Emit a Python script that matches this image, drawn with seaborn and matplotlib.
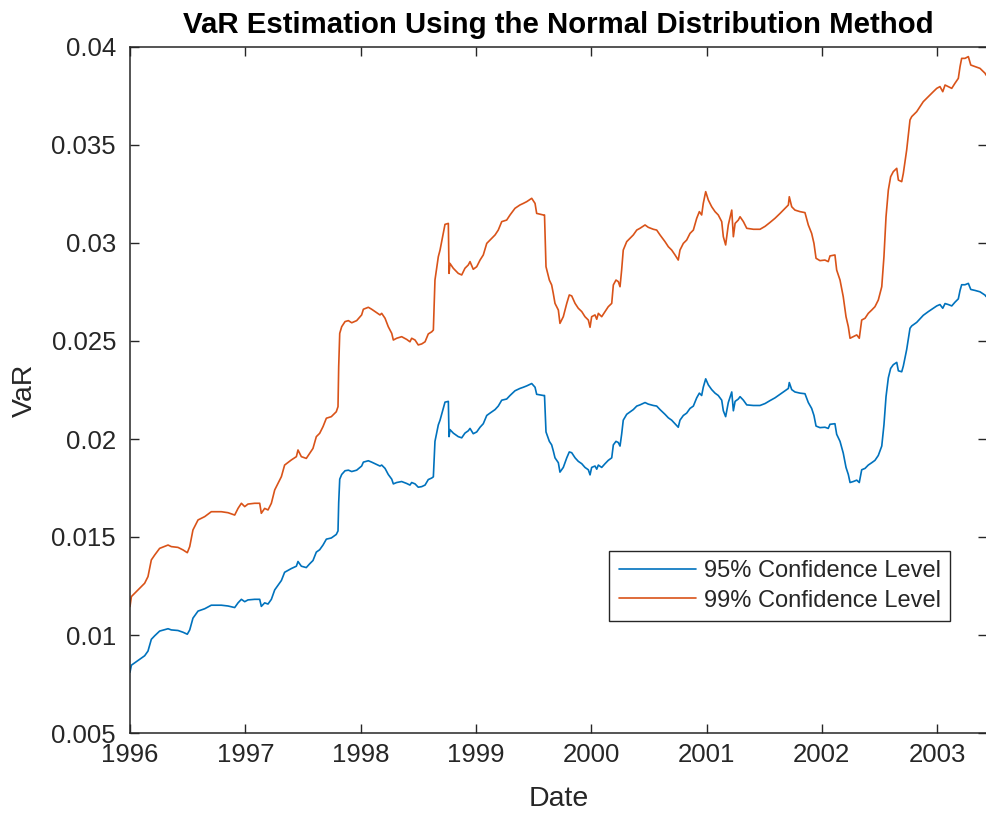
import matplotlib
matplotlib.use("Agg")
import matplotlib.pyplot as plt
import seaborn as sns
import pandas as pd
from matplotlib.ticker import FixedLocator, FixedFormatter

# ---- data ----
dates = [
    1996.000, 1996.012, 1996.069, 1996.127, 1996.156, 1996.185, 1996.214, 1996.257, 1996.330, 1996.358,
    1996.416, 1996.460, 1996.497, 1996.518, 1996.546, 1996.590, 1996.648, 1996.705, 1996.792, 1996.850,
    1996.908, 1996.937, 1996.966, 1996.995, 1997.023, 1997.081, 1997.125, 1997.139, 1997.168, 1997.197,
    1997.226, 1997.255, 1997.284, 1997.313, 1997.341, 1997.399, 1997.443, 1997.457, 1997.486, 1997.529,
    1997.558, 1997.587, 1997.616, 1997.645, 1997.674, 1997.703, 1997.746, 1997.789, 1997.804, 1997.810,
    1997.819, 1997.836, 1997.865, 1997.894, 1997.923, 1997.966, 1998.009, 1998.024, 1998.067, 1998.096,
    1998.139, 1998.168, 1998.183, 1998.212, 1998.240, 1998.270, 1998.284, 1998.313, 1998.356, 1998.400,
    1998.428, 1998.443, 1998.472, 1998.500, 1998.530, 1998.559, 1998.587, 1998.617, 1998.631, 1998.645,
    1998.674, 1998.689, 1998.717, 1998.732, 1998.761, 1998.767, 1998.775, 1998.804, 1998.847, 1998.877,
    1998.905, 1998.934, 1998.949, 1998.977, 1999.007, 1999.036, 1999.064, 1999.094, 1999.122, 1999.166,
    1999.194, 1999.224, 1999.267, 1999.296, 1999.339, 1999.382, 1999.411, 1999.441, 1999.484, 1999.513,
    1999.527, 1999.585, 1999.595, 1999.608, 1999.637, 1999.657, 1999.671, 1999.686, 1999.715, 1999.729,
    1999.758, 1999.788, 1999.810, 1999.831, 1999.860, 1999.888, 1999.918, 1999.946, 1999.975, 1999.990,
    2000.004, 2000.033, 2000.048, 2000.062, 2000.091, 2000.120, 2000.148, 2000.178, 2000.192, 2000.215,
    2000.235, 2000.250, 2000.264, 2000.278, 2000.308, 2000.337, 2000.365, 2000.395, 2000.423, 2000.467,
    2000.495, 2000.539, 2000.568, 2000.597, 2000.640, 2000.669, 2000.698, 2000.727, 2000.755, 2000.770,
    2000.799, 2000.828, 2000.857, 2000.886, 2000.915, 2000.938, 2000.958, 2000.972, 2000.993, 2001.016,
    2001.045, 2001.074, 2001.102, 2001.132, 2001.146, 2001.166, 2001.189, 2001.219, 2001.233, 2001.248,
    2001.276, 2001.291, 2001.320, 2001.349, 2001.407, 2001.464, 2001.508, 2001.551, 2001.594, 2001.638,
    2001.681, 2001.710, 2001.718, 2001.739, 2001.767, 2001.811, 2001.854, 2001.883, 2001.912, 2001.932,
    2001.950, 2001.984, 2002.027, 2002.056, 2002.071, 2002.114, 2002.129, 2002.158, 2002.186, 2002.210,
    2002.230, 2002.245, 2002.273, 2002.303, 2002.325, 2002.346, 2002.375, 2002.403, 2002.433, 2002.461,
    2002.490, 2002.520, 2002.539, 2002.557, 2002.577, 2002.597, 2002.620, 2002.650, 2002.664, 2002.693,
    2002.707, 2002.736, 2002.765, 2002.780, 2002.823, 2002.852, 2002.880, 2002.924, 2002.967, 2002.997,
    2003.025, 2003.049, 2003.069, 2003.097, 2003.127, 2003.155, 2003.184, 2003.199, 2003.213, 2003.242,
    2003.271, 2003.292, 2003.329, 2003.372, 2003.416, 2003.424,
]

var99 = [
    0.01145, 0.01196, 0.01230, 0.01264, 0.01298, 0.01383, 0.01408, 0.01442, 0.01459, 0.01451,
    0.01447, 0.01434, 0.01420, 0.01451, 0.01536, 0.01587, 0.01604, 0.01629, 0.01629, 0.01624,
    0.01612, 0.01646, 0.01672, 0.01655, 0.01668, 0.01672, 0.01672, 0.01621, 0.01646, 0.01638,
    0.01672, 0.01740, 0.01774, 0.01808, 0.01867, 0.01893, 0.01910, 0.01944, 0.01910, 0.01901,
    0.01927, 0.01952, 0.02012, 0.02029, 0.02063, 0.02106, 0.02114, 0.02139, 0.02165, 0.02369,
    0.02539, 0.02573, 0.02599, 0.02604, 0.02593, 0.02604, 0.02633, 0.02662, 0.02672, 0.02662,
    0.02645, 0.02633, 0.02641, 0.02616, 0.02573, 0.02539, 0.02505, 0.02514, 0.02522, 0.02508,
    0.02496, 0.02514, 0.02505, 0.02480, 0.02485, 0.02496, 0.02536, 0.02547, 0.02556, 0.02811,
    0.02930, 0.02964, 0.03049, 0.03095, 0.03100, 0.02845, 0.02896, 0.02871, 0.02845, 0.02837,
    0.02871, 0.02888, 0.02905, 0.02866, 0.02879, 0.02913, 0.02939, 0.02998, 0.03015, 0.03041,
    0.03066, 0.03109, 0.03117, 0.03143, 0.03177, 0.03194, 0.03202, 0.03211, 0.03228, 0.03202,
    0.03151, 0.03143, 0.03143, 0.02879, 0.02811, 0.02786, 0.02743, 0.02692, 0.02658, 0.02590,
    0.02624, 0.02692, 0.02735, 0.02730, 0.02692, 0.02667, 0.02650, 0.02624, 0.02607, 0.02570,
    0.02624, 0.02633, 0.02611, 0.02641, 0.02624, 0.02650, 0.02675, 0.02692, 0.02786, 0.02811,
    0.02803, 0.02777, 0.02862, 0.02964, 0.03007, 0.03024, 0.03041, 0.03066, 0.03075, 0.03092,
    0.03080, 0.03070, 0.03066, 0.03041, 0.03007, 0.02981, 0.02964, 0.02939, 0.02913, 0.02964,
    0.02998, 0.03015, 0.03049, 0.03066, 0.03126, 0.03160, 0.03143, 0.03202, 0.03262, 0.03219,
    0.03185, 0.03160, 0.03143, 0.03109, 0.03032, 0.02990, 0.03092, 0.03168, 0.03032, 0.03100,
    0.03117, 0.03134, 0.03109, 0.03075, 0.03070, 0.03070, 0.03085, 0.03105, 0.03126, 0.03151,
    0.03177, 0.03194, 0.03236, 0.03185, 0.03168, 0.03160, 0.03155, 0.03092, 0.03049, 0.02998,
    0.02922, 0.02910, 0.02913, 0.02905, 0.02934, 0.02939, 0.02862, 0.02811, 0.02726, 0.02624,
    0.02573, 0.02514, 0.02522, 0.02531, 0.02514, 0.02607, 0.02616, 0.02641, 0.02658, 0.02675,
    0.02709, 0.02777, 0.02930, 0.03134, 0.03270, 0.03338, 0.03364, 0.03381, 0.03321, 0.03313,
    0.03355, 0.03474, 0.03628, 0.03645, 0.03670, 0.03696, 0.03721, 0.03747, 0.03772, 0.03789,
    0.03798, 0.03772, 0.03806, 0.03798, 0.03789, 0.03815, 0.03840, 0.03900, 0.03942, 0.03942,
    0.03951, 0.03908, 0.03900, 0.03891, 0.03866, 0.03857,
]

var95 = [
    0.00810, 0.00846, 0.00870, 0.00894, 0.00918, 0.00978, 0.00996, 0.01020, 0.01032, 0.01026,
    0.01023, 0.01014, 0.01004, 0.01026, 0.01086, 0.01122, 0.01134, 0.01152, 0.01152, 0.01148,
    0.01140, 0.01164, 0.01182, 0.01170, 0.01179, 0.01182, 0.01182, 0.01146, 0.01164, 0.01158,
    0.01182, 0.01230, 0.01254, 0.01278, 0.01320, 0.01339, 0.01351, 0.01375, 0.01351, 0.01344,
    0.01363, 0.01380, 0.01423, 0.01435, 0.01459, 0.01489, 0.01495, 0.01513, 0.01531, 0.01675,
    0.01795, 0.01819, 0.01838, 0.01841, 0.01834, 0.01841, 0.01862, 0.01882, 0.01889, 0.01882,
    0.01870, 0.01862, 0.01867, 0.01850, 0.01819, 0.01795, 0.01771, 0.01778, 0.01783, 0.01773,
    0.01765, 0.01778, 0.01771, 0.01754, 0.01757, 0.01765, 0.01793, 0.01801, 0.01807, 0.01988,
    0.02072, 0.02096, 0.02156, 0.02188, 0.02192, 0.02012, 0.02048, 0.02030, 0.02012, 0.02006,
    0.02030, 0.02042, 0.02054, 0.02027, 0.02036, 0.02060, 0.02078, 0.02120, 0.02132, 0.02150,
    0.02168, 0.02198, 0.02204, 0.02222, 0.02246, 0.02258, 0.02264, 0.02271, 0.02283, 0.02264,
    0.02228, 0.02222, 0.02222, 0.02036, 0.01988, 0.01970, 0.01940, 0.01904, 0.01879, 0.01831,
    0.01855, 0.01904, 0.01934, 0.01930, 0.01904, 0.01886, 0.01874, 0.01855, 0.01843, 0.01817,
    0.01855, 0.01862, 0.01846, 0.01867, 0.01855, 0.01874, 0.01891, 0.01904, 0.01970, 0.01988,
    0.01982, 0.01964, 0.02024, 0.02096, 0.02126, 0.02138, 0.02150, 0.02168, 0.02174, 0.02186,
    0.02178, 0.02171, 0.02168, 0.02150, 0.02126, 0.02108, 0.02096, 0.02078, 0.02060, 0.02096,
    0.02120, 0.02132, 0.02156, 0.02168, 0.02210, 0.02234, 0.02222, 0.02264, 0.02307, 0.02276,
    0.02252, 0.02234, 0.02222, 0.02198, 0.02144, 0.02114, 0.02186, 0.02240, 0.02144, 0.02192,
    0.02204, 0.02216, 0.02198, 0.02174, 0.02171, 0.02171, 0.02181, 0.02196, 0.02210, 0.02228,
    0.02246, 0.02258, 0.02288, 0.02252, 0.02240, 0.02234, 0.02231, 0.02186, 0.02156, 0.02120,
    0.02066, 0.02058, 0.02060, 0.02054, 0.02075, 0.02078, 0.02024, 0.01988, 0.01928, 0.01855,
    0.01819, 0.01778, 0.01783, 0.01790, 0.01778, 0.01843, 0.01850, 0.01867, 0.01879, 0.01891,
    0.01916, 0.01964, 0.02072, 0.02216, 0.02312, 0.02360, 0.02379, 0.02391, 0.02348, 0.02343,
    0.02372, 0.02456, 0.02565, 0.02577, 0.02595, 0.02613, 0.02631, 0.02650, 0.02667, 0.02679,
    0.02686, 0.02667, 0.02691, 0.02686, 0.02679, 0.02698, 0.02715, 0.02758, 0.02787, 0.02787,
    0.02794, 0.02763, 0.02758, 0.02751, 0.02734, 0.02727,
]

series_names = ["95% Confidence Level", "99% Confidence Level"]
year_ticks = [1996, 1997, 1998, 1999, 2000, 2001, 2002, 2003]
year_labels = ["1996", "1997", "1998", "1999", "2000", "2001", "2002", "2003"]
y_ticks = [0.005, 0.01, 0.015, 0.02, 0.025, 0.03, 0.035, 0.04]
y_labels = ["0.005", "0.01", "0.015", "0.02", "0.025", "0.03", "0.035", "0.04"]

df = pd.concat([
    pd.DataFrame({"Date": dates, "VaR": var95, "Series": series_names[0]}),
    pd.DataFrame({"Date": dates, "VaR": var99, "Series": series_names[1]}),
], ignore_index=True)

# ---- style ----
sns.set_style("ticks")
plt.rcParams["font.family"] = ["Liberation Sans", "DejaVu Sans"]
TXT = "#262626"

fig = plt.figure(figsize=(9.86, 8.13), dpi=100)
ax = fig.add_axes([130 / 986, 80 / 813, 857 / 986, 686 / 813])

sns.lineplot(data=df, x="Date", y="VaR", hue="Series", sort=False,
             palette=["#0072BD", "#D95319"], linewidth=1.2, ax=ax)

ax.set_xlim(1996, 1996 + 857 / 115.3)
ax.set_ylim(0.005, 0.04)
ax.xaxis.set_major_locator(FixedLocator(year_ticks))
ax.xaxis.set_major_formatter(FixedFormatter(year_labels))
ax.yaxis.set_major_locator(FixedLocator(y_ticks))
ax.yaxis.set_major_formatter(FixedFormatter(y_labels))

for s in ax.spines.values():
    s.set_visible(True)
    s.set_color(TXT)
    s.set_linewidth(1.1)
ax.tick_params(direction="in", length=6.5, width=1.0, color=TXT,
               top=True, right=True, labelsize=18.5, labelcolor=TXT)
ax.tick_params(axis="x", pad=7)
ax.tick_params(axis="y", pad=10)

ax.set_title("VaR Estimation Using the Normal Distribution Method",
             fontsize=21.2, fontweight="bold", color="black", pad=10)
ax.set_xlabel("Date", fontsize=20.5, color=TXT, labelpad=14)
ax.set_ylabel("VaR", fontsize=20.5, color=TXT, labelpad=10)

leg = ax.legend(loc="lower right", bbox_to_anchor=(0.9568, 0.1633),
                fontsize=17, frameon=True, fancybox=False, framealpha=1,
                edgecolor=TXT, handlelength=3.3, handletextpad=0.3,
                borderpad=0.4, labelspacing=0.3, borderaxespad=0)
leg.get_frame().set_linewidth(1.0)
for t in leg.get_texts():
    t.set_color(TXT)

fig.savefig("out.png", dpi=100)
